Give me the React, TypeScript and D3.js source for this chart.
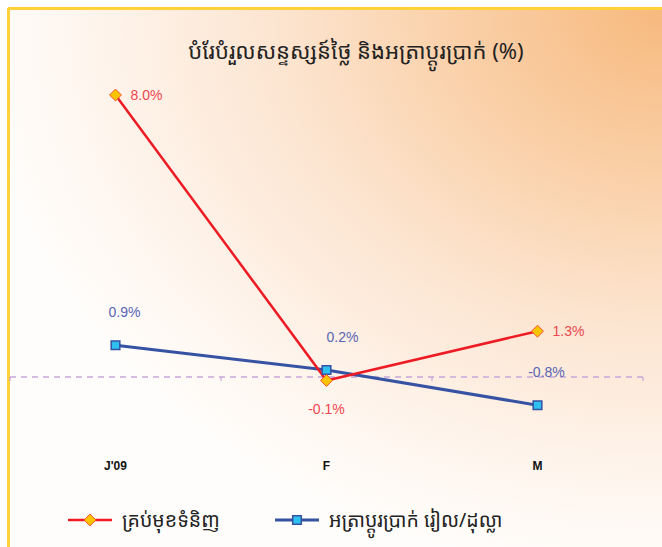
import React from "react";
import * as d3 from "d3";

const categories = ["J'09", "F", "M"];
const cpiValues = [8.0, -0.1, 1.3];
const fxValues = [0.9, 0.2, -0.8];
const seriesNames = ["គ្រប់មុខទំនិញ", "អត្រាប្តូរប្រាក់ រៀល/ដុល្លា"];
const chartTitle = "បំរែបំរួលសន្ទស្សន៍ថ្លៃ និងអត្រាប្តូរប្រាក់ (%)";

const W = 662;
const H = 547;
const khmerFont = "'Noto Sans Khmer', 'Khmer OS', 'Noto Sans', 'DejaVu Sans', sans-serif";
const latinFont = "'Liberation Sans', Arial, sans-serif";

const RED = "#ED1C24";
const BLUE = "#3552A3";
const fmt = (v: number) => d3.format(".1f")(v).replace("\u2212", "-") + "%";

export default function App() {
  const x = d3.scaleBand<string>().domain(categories).range([10, 643]);
  const cx = (c: string) => (x(c) as number) + x.bandwidth() / 2;
  const y = d3.scaleLinear().domain([-2, 8.5]).range([447.5, 77.375]);

  const line = d3
    .line<number>()
    .x((_, i) => cx(categories[i]))
    .y((d) => y(d));

  const diamond = d3.symbol().type(d3.symbolDiamond2).size(90)();
  const square = d3.symbol().type(d3.symbolSquare2).size(95)();

  return (
    <div style={{ position: "absolute", left: 0, top: 0 }}>
      <svg width={W} height={H} style={{ display: "block" }}>
        <defs>
          <radialGradient id="bg" cx="1" cy="0" r="1.05" gradientUnits="objectBoundingBox">
            <stop offset="0" stopColor="#F7B97E" />
            <stop offset="0.3" stopColor="#FAD0A8" />
            <stop offset="0.55" stopColor="#FCE4CF" />
            <stop offset="0.8" stopColor="#FEF3EA" />
            <stop offset="1" stopColor="#FFFDFB" />
          </radialGradient>
        </defs>
        <rect x={0} y={0} width={W} height={H} fill="#fff" />
        <rect x={8} y={8} width={W - 8} height={H - 8} fill="url(#bg)" />
        <line x1={8} y1={8.5} x2={W} y2={8.5} stroke="#FFD23A" strokeWidth={3} />
        <line x1={8.5} y1={8} x2={8.5} y2={H} stroke="#FFD23A" strokeWidth={3} />

        <text x={356} y={59} textAnchor="middle" fontFamily={khmerFont} fontSize={22} fill="#222">
          {chartTitle}
        </text>

        {/* zero line */}
        <line x1={10} x2={643} y1={y(0)} y2={y(0)} stroke="#C7A6D9" strokeWidth={1.5} strokeDasharray="6,5" />
        {[10, ...categories.map((c) => (x(c) as number) + x.bandwidth())].map((t, i) => (
          <line key={i} x1={t} x2={t} y1={y(0)} y2={y(0) + 4} stroke="#C7A6D9" strokeWidth={1.2} />
        ))}

        {/* category labels */}
        {categories.map((c) => (
          <text key={c} x={cx(c)} y={470} textAnchor="middle" fontFamily={latinFont} fontSize={12} fontWeight="bold" fill="#111">
            {c}
          </text>
        ))}

        {/* series lines */}
        <path d={line(fxValues) || ""} fill="none" stroke={BLUE} strokeWidth={3} />
        <path d={line(cpiValues) || ""} fill="none" stroke={RED} strokeWidth={2.5} />

        {fxValues.map((v, i) => (
          <path key={"s" + i} d={square || ""} transform={`translate(${cx(categories[i])},${y(v)})`} fill="#2EC0EE" stroke={BLUE} strokeWidth={1.5} />
        ))}
        {cpiValues.map((v, i) => (
          <path key={"d" + i} d={diamond || ""} transform={`translate(${cx(categories[i])},${y(v)})`} fill="#FFC400" stroke="#F2542D" strokeWidth={1} />
        ))}

        {/* data labels */}
        {cpiValues.map((v, i) => {
          const px = cx(categories[i]);
          const py = y(v);
          const below = i === 1;
          return (
            <text
              key={"cl" + i}
              x={below ? px : px + 15}
              y={below ? py + 33 : py + 5}
              textAnchor={below ? "middle" : "start"}
              fontFamily={latinFont}
              fontSize={14}
              fill="#EE4650"
            >
              {fmt(v)}
            </text>
          );
        })}
        {fxValues.map((v, i) => (
          <text
            key={"fl" + i}
            x={cx(categories[i]) + (i === 1 ? 16 : 9)}
            y={y(v) - 28}
            textAnchor="middle"
            fontFamily={latinFont}
            fontSize={14}
            fill="#5865B5"
          >
            {fmt(v)}
          </text>
        ))}

        {/* legend */}
        <g transform="translate(68,520)">
          <line x1={0} x2={44} y1={0} y2={0} stroke={RED} strokeWidth={2.5} />
          <path d={diamond || ""} transform="translate(22,0)" fill="#FFC400" stroke="#F2542D" strokeWidth={1} />
          <text x={54} y={7} fontFamily={khmerFont} fontSize={19.5} fill="#222">
            {seriesNames[0]}
          </text>
        </g>
        <g transform="translate(275,520)">
          <line x1={0} x2={44} y1={0} y2={0} stroke={BLUE} strokeWidth={3} />
          <path d={square || ""} transform="translate(22,0)" fill="#2EC0EE" stroke={BLUE} strokeWidth={1.5} />
          <text x={54} y={7} fontFamily={khmerFont} fontSize={19.5} fill="#222">
            {seriesNames[1]}
          </text>
        </g>
      </svg>
    </div>
  );
}
